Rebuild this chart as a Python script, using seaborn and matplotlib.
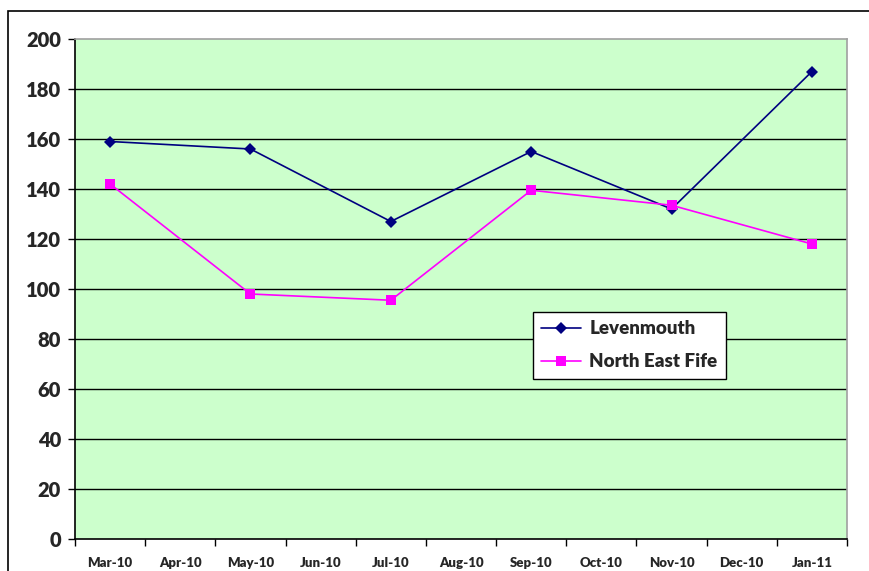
import matplotlib
matplotlib.use("Agg")
import matplotlib.pyplot as plt
from matplotlib.patches import Rectangle
import seaborn as sns
import pandas as pd
import numpy as np

months = ["Mar-10", "Apr-10", "May-10", "Jun-10", "Jul-10", "Aug-10",
          "Sep-10", "Oct-10", "Nov-10", "Dec-10", "Jan-11"]
data_months = ["Mar-10", "May-10", "Jul-10", "Sep-10", "Nov-10", "Jan-11"]
levenmouth = [159, 156, 127, 155, 132, 187]
north_east_fife = [142, 98, 95.5, 139.5, 133.5, 118]
y_ticks = [0, 20, 40, 60, 80, 100, 120, 140, 160, 180, 200]

sns.set_theme(style="white")
plt.rcParams['font.family'] = ['Lato', 'DejaVu Sans']

pos = [months.index(m) for m in data_months]
df = pd.DataFrame({
    "pos": pos * 2,
    "value": levenmouth + north_east_fife,
    "series": ["Levenmouth"] * len(pos) + ["North East Fife"] * len(pos),
})

W, H = 869, 571
fig = plt.figure(figsize=(W / 100, H / 100), dpi=100)
fig.patch.set_facecolor("white")
ax = fig.add_axes([75 / W, 1 - 539 / H, (847 - 75) / W, (539 - 39) / H])
ax.set_facecolor("#CCFFCC")

# outer chart frame
fig.patches.append(Rectangle((8 / W, -0.05), 1.2, 1 - 11 / H + 0.05,
                             transform=fig.transFigure, fill=False,
                             edgecolor="black", linewidth=1.2, zorder=0))

for yv in y_ticks[1:-1]:
    ax.axhline(yv, color="black", linewidth=1.0, zorder=1)

sns.lineplot(data=df, x="pos", y="value", hue="series", style="series",
             palette={"Levenmouth": "#000080", "North East Fife": "#FF00FF"},
             markers={"Levenmouth": "D", "North East Fife": "s"},
             dashes=False, markersize=6.5, linewidth=1.2,
             markeredgewidth=0, ax=ax, zorder=3)

W8 = "heavy"
ax.set_xlim(-0.5, len(months) - 0.5)
ax.set_ylim(0, 200)
ax.set_yticks(y_ticks)
ax.set_yticklabels([str(v) for v in y_ticks], fontsize=14.5, fontweight=W8)
ax.set_xticks(np.arange(len(months)))
ax.set_xticklabels(months, fontsize=9.5, fontweight=W8)
ax.set_xticks(np.arange(len(months) + 1) - 0.5, minor=True)
ax.tick_params(axis="x", which="major", length=0, pad=13)
ax.tick_params(axis="x", which="minor", length=5, width=1, color="black",
               direction="out", bottom=True)
ax.tick_params(axis="y", which="major", length=5, width=1, color="black",
               direction="out", left=True, pad=5)
ax.set_xlabel("")
ax.set_ylabel("")

for side in ["top", "right"]:
    ax.spines[side].set_visible(True)
    ax.spines[side].set_color("#A0A0A0")
    ax.spines[side].set_linewidth(1.2)
for side in ["left", "bottom"]:
    ax.spines[side].set_color("black")
    ax.spines[side].set_linewidth(1.2)

handles, labels = ax.get_legend_handles_labels()
leg = ax.legend(handles, labels, loc="upper left",
                bbox_to_anchor=((533 - 75) / (847 - 75), (539 - 312) / 500),
                borderaxespad=0,
                frameon=True, fancybox=False, framealpha=1,
                edgecolor="black", facecolor="white",
                prop={"size": 13.5, "weight": W8},
                handlelength=2.1, borderpad=0.45, labelspacing=0.85,
                handletextpad=0.45)
leg.get_frame().set_linewidth(1.0)
leg.set_zorder(5)

fig.savefig("out.png", dpi=100)
